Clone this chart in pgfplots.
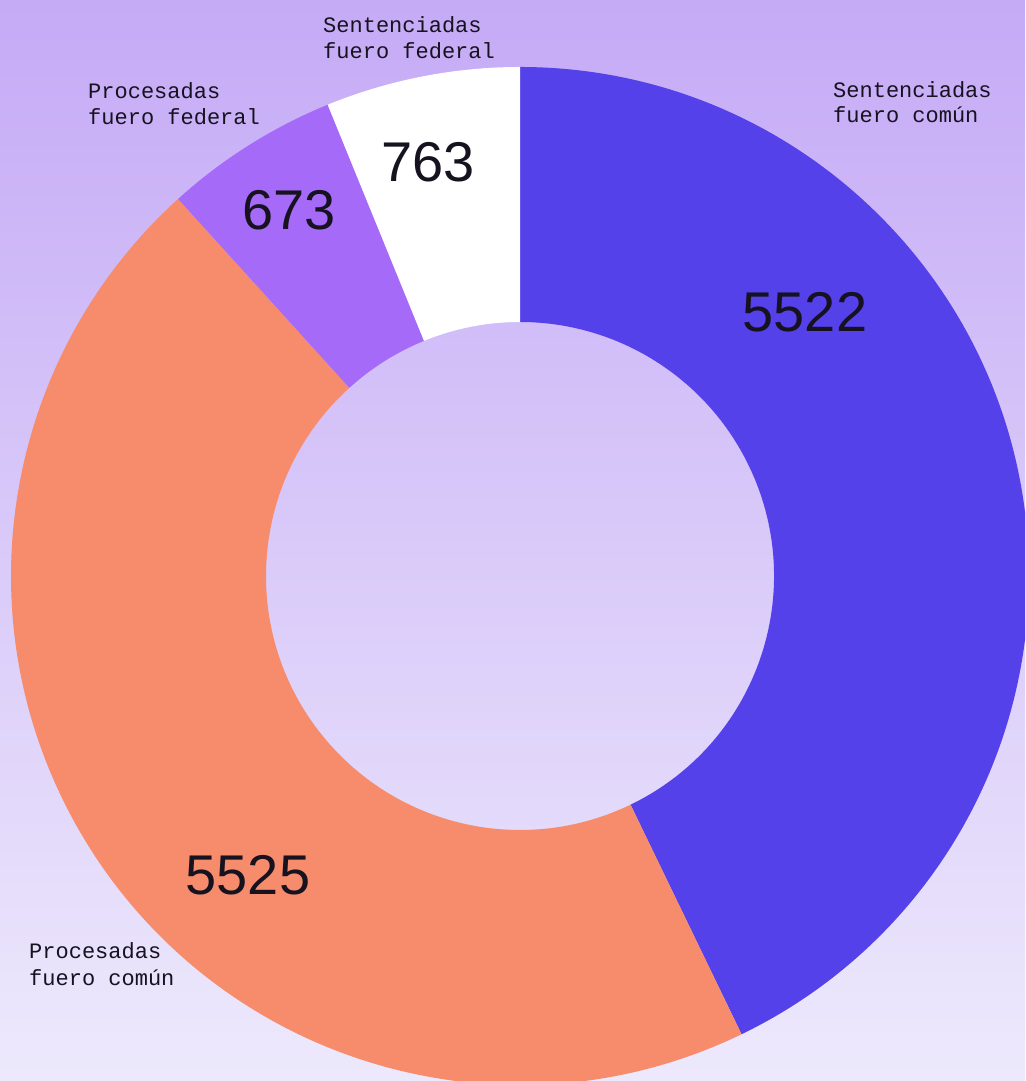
\documentclass[border=0pt]{standalone}
\usepackage{pgfplots}
\pgfplotsset{compat=1.18}
\usepackage{pgfplotstable}
\usepackage{fontspec}
\setmainfont{Liberation Sans}
\newfontfamily\labelfont{Liberation Mono}

\definecolor{bgtop}{HTML}{C5AAF6}
\definecolor{bgmid}{HTML}{E0D6F9}
\definecolor{bgbot}{HTML}{EDE9FC}
\definecolor{scomun}{HTML}{5441E9}
\definecolor{pcomun}{HTML}{F78C6C}
\definecolor{pfed}{HTML}{A66AF8}
\definecolor{sfed}{HTML}{FFFFFF}
\definecolor{ink}{HTML}{17121F}

% span of each slice as drawn, degrees clockwise from 12 o'clock
\pgfplotstableread{
value span
5522 154.2
5525 163.6
673  20.0
763  22.2
}\slices
\pgfplotstablegetelem{0}{span}\of\slices \pgfmathsetmacro\angA{90-\pgfplotsretval}
\pgfplotstablegetelem{1}{span}\of\slices \pgfmathsetmacro\angB{\angA-\pgfplotsretval}
\pgfplotstablegetelem{2}{span}\of\slices \pgfmathsetmacro\angC{\angB-\pgfplotsretval}
\pgfplotstablegetelem{3}{span}\of\slices \pgfmathsetmacro\angD{\angC-\pgfplotsretval}

% ring sector: from angle, to angle, colour (centre 520,505; radii 509/254)
\newcommand\ring[3]{%
  \begin{scope}[shift={(axis cs:520,505)}]
    \fill[#3] (#1:509pt) arc[start angle=#1, end angle=#2, radius=509pt]
      -- (#2:254pt) arc[start angle=#2, end angle=#1, radius=254pt] -- cycle;
  \end{scope}}
\newcommand\lbl[3]{\node[anchor=base west, inner sep=0pt, text=ink,
  font=\labelfont\fontsize{22}{26}\selectfont] at (axis cs:#1,#2) {#3};}
\newcommand\num[3]{\node[anchor=base, inner sep=0pt, text=ink,
  font=\fontsize{56}{60}\selectfont] at (axis cs:#1,#2) {#3};}

\begin{document}%
\begin{tikzpicture}
\begin{axis}[
    scale only axis,
    width=1025pt, height=1081pt,
    xmin=0, xmax=1025, ymin=0, ymax=1081,
    hide axis,
    clip=true,
]
\fill[top color=bgtop, middle color=bgmid, bottom color=bgbot]
  (axis cs:0,0) rectangle (axis cs:1025,1081);

\ring{90}{\angA}{scomun}
\ring{\angA}{\angB}{pcomun}
\ring{\angB}{\angC}{pfed}
\ring{\angC}{\angD}{sfed}

% values (y = 1081 - pixel row)
\num{805}{749}{5522}
\num{248}{186}{5525}
\num{289}{851}{673}
\num{428}{899}{763}

% slice names
\lbl{833}{983}{Sentenciadas}
\lbl{833}{958}{fuero común}
\lbl{323}{1048}{Sentenciadas}
\lbl{323}{1022}{fuero federal}
\lbl{88}{982}{Procesadas}
\lbl{88}{956}{fuero federal}
\lbl{29}{122}{Procesadas}
\lbl{29}{95}{fuero común}
\end{axis}
\pgfresetboundingbox
\useasboundingbox (0,0) rectangle (1025pt,1081pt);
\end{tikzpicture}%
\end{document}
